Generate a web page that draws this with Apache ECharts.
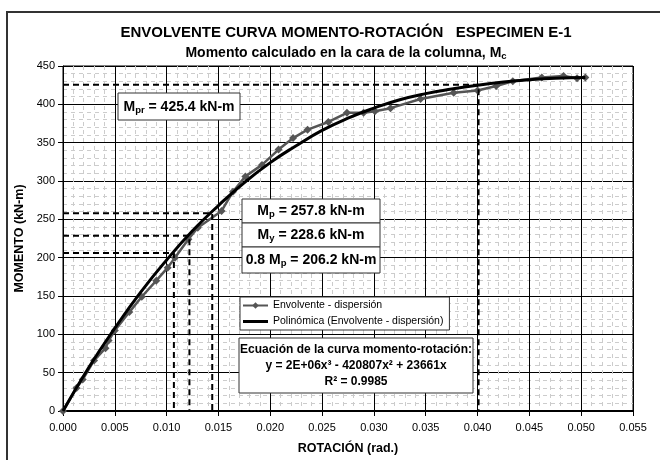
<!DOCTYPE html>
<html>
<head>
<meta charset="utf-8">
<script src="https://cdn.jsdelivr.net/npm/echarts@6/dist/echarts.min.js"></script>
<style>
  html, body { margin: 0; padding: 0; background: #fff; }
  #mainb { width: 660px; height: 460px; }
</style>
</head>
<body>
<div id="mainb"></div>
<script>
// envolvente (puntos medidos)
var rotacion = [0, 0.0013, 0.0019, 0.0030, 0.0041, 0.0044, 0.0050, 0.0064, 0.0076, 0.0090,
  0.0101, 0.0108, 0.0121, 0.0130, 0.0153, 0.0164, 0.0176, 0.0192, 0.0208, 0.0222,
  0.0236, 0.0256, 0.0274, 0.0290, 0.0301, 0.0316, 0.0345, 0.0377, 0.0400, 0.0418,
  0.0434, 0.0462, 0.0483, 0.0496, 0.0504];
var momento = [0, 30, 41, 66, 82, 92, 105, 129, 149, 170,
  187, 200, 224, 239, 261, 286, 306, 321, 341, 356,
  367, 377, 389, 389, 391, 395, 407, 415, 418, 424,
  430, 435, 437, 434, 435];

// linea de tendencia polinomica
var tendRot = [0, 0.0025, 0.005, 0.0075, 0.010, 0.0125, 0.015, 0.0175, 0.020, 0.0225, 0.025,
  0.0275, 0.030, 0.0325, 0.035, 0.0375, 0.040, 0.0425, 0.045, 0.0475, 0.0504];
var tendMom = [0, 57, 108, 155, 197, 235, 268, 298, 324, 346, 366,
  382, 395, 406, 414, 420, 425, 429, 432, 434, 435];

// momentos de referencia
var refMomento = [425.4, 257.8, 228.6, 206.2];
var refRotacion = [0.0401, 0.0144, 0.0122, 0.0107];

var xTicks = { min: 0, max: 0.055, interval: 0.005 };
var yTicks = { min: 0, max: 450, interval: 50 };

var fuente = 'Liberation Sans, Arial, sans-serif';

function pares(xs, ys) {
  var out = [];
  for (var i = 0; i < xs.length; i++) out.push([xs[i], ys[i]]);
  return out;
}

var series = [{
  name: 'Envolvente - dispersión',
  type: 'line',
  data: pares(rotacion, momento),
  symbol: 'diamond',
  symbolSize: 8,
  showSymbol: true,
  lineStyle: { color: '#555', width: 2.5 },
  itemStyle: { color: '#555' },
  z: 3
}, {
  name: 'Polinómica (Envolvente - dispersión)',
  type: 'line',
  data: pares(tendRot, tendMom),
  smooth: true,
  symbol: 'none',
  lineStyle: { color: '#000', width: 3 },
  itemStyle: { color: '#000' },
  z: 4
}];

refMomento.forEach(function (m, i) {
  series.push({
    type: 'line',
    data: [[0, m], [refRotacion[i], m], [refRotacion[i], 0]],
    symbol: 'none',
    silent: true,
    lineStyle: { color: '#000', width: 2, type: [6, 4] },
    z: 5
  });
});

var sub = { fontSize: 9.5, fontWeight: 'bold', fontFamily: fuente, verticalAlign: 'bottom', lineHeight: 11 };
var main = { fontSize: 14, fontWeight: 'bold', fontFamily: fuente, lineHeight: 17, color: '#000' };

function caja(x, y, w, h) {
  return { type: 'rect', shape: { x: x, y: y, width: w, height: h },
    style: { fill: '#fff', stroke: '#333', lineWidth: 1 }, z: 100 };
}
function texto(x, y, t, extra) {
  var st = { x: x, y: y, text: t, textAlign: 'center', textVerticalAlign: 'middle',
    rich: { m: main, s: sub }, fill: '#000', font: 'bold 14px ' + fuente };
  for (var k in extra) st[k] = extra[k];
  return { type: 'text', style: st, z: 101 };
}
var eq = { e: { fontSize: 12, fontWeight: 'bold', fontFamily: fuente } };

var echartLine = echarts.init(document.getElementById('mainb'));
echartLine.setOption({
  animation: false,
  backgroundColor: '#fff',
  textStyle: { fontFamily: fuente },
  grid: { left: 63, right: 27, top: 66, bottom: 47, show: true, borderColor: '#000', borderWidth: 1 },
  legend: {
    data: [
      { name: 'Envolvente - dispersión' },
      { name: 'Polinómica (Envolvente - dispersión)', icon: 'path://M0,0 L25,0 L25,3 L0,3 Z' }
    ],
    orient: 'vertical',
    left: 240, top: 297,
    itemWidth: 25, itemHeight: 8, itemGap: 5,
    padding: [3, 6, 3, 2],
    backgroundColor: '#fff',
    borderColor: '#333', borderWidth: 1,
    textStyle: { fontSize: 10.5, color: '#000', fontFamily: fuente },
    z: 50
  },
  xAxis: {
    type: 'value',
    min: xTicks.min, max: xTicks.max, interval: xTicks.interval,
    name: 'ROTACIÓN (rad.)',
    nameLocation: 'middle', nameGap: 31,
    nameTextStyle: { fontSize: 12.5, fontWeight: 'bold', color: '#000', fontFamily: fuente },
    axisLine: { show: true, lineStyle: { color: '#000', width: 2 } },
    axisTick: { show: true, length: 5, lineStyle: { color: '#000' } },
    axisLabel: { fontSize: 11, color: '#000', margin: 11, formatter: function (v) { return v.toFixed(3); } },
    splitLine: { show: true, lineStyle: { color: '#000', width: 1 } },
    minorTick: { show: false, splitNumber: 5 },
    minorSplitLine: { show: true, lineStyle: { color: '#cccccc', width: 1, type: [4, 4] } }
  },
  yAxis: {
    type: 'value',
    min: yTicks.min, max: yTicks.max, interval: yTicks.interval,
    name: 'MOMENTO (kN-m)',
    nameLocation: 'middle', nameGap: 36,
    nameTextStyle: { fontSize: 12.5, fontWeight: 'bold', color: '#000', fontFamily: fuente },
    axisLine: { show: true, lineStyle: { color: '#000', width: 1 } },
    axisTick: { show: true, length: 5, lineStyle: { color: '#000' } },
    axisLabel: { fontSize: 11, color: '#000', margin: 8 },
    splitLine: { show: true, lineStyle: { color: '#000', width: 1 } },
    minorTick: { show: false, splitNumber: 5 },
    minorSplitLine: { show: true, lineStyle: { color: '#cccccc', width: 1, type: [4, 4] } }
  },
  series: series,
  graphic: [
    { type: 'rect', shape: { x: 7, y: 12, width: 700, height: 500 },
      style: { fill: 'none', stroke: '#333', lineWidth: 2 }, silent: true, z: 0 },
    { type: 'text', style: { x: 346, y: 33, text: 'ENVOLVENTE CURVA MOMENTO-ROTACIÓN   ESPECIMEN E-1',
      textAlign: 'center', textVerticalAlign: 'middle', font: 'bold 15px ' + fuente, fill: '#000' }, z: 100 },
    texto(346, 53, '{t|Momento calculado en la cara de la columna, M}{u|c}', {
      rich: { t: { fontSize: 14, fontWeight: 'bold', fontFamily: fuente, lineHeight: 17 },
              u: { fontSize: 9.5, fontWeight: 'bold', fontFamily: fuente, verticalAlign: 'bottom', lineHeight: 11 } } }),

    caja(118, 93, 122, 27),
    texto(179, 107, '{m|M}{s|pr}{m| = 425.4 kN-m}'),

    caja(242, 199, 138, 24),
    texto(311, 211, '{m|M}{s|p}{m| = 257.8 kN-m}'),
    caja(242, 223, 138, 24),
    texto(311, 235, '{m|M}{s|y}{m| = 228.6 kN-m}'),
    caja(242, 247, 138, 26),
    texto(311, 260, '{m|0.8 M}{s|p}{m| = 206.2 kN-m}'),

    caja(239, 338, 234, 55),
    texto(356, 350, '{e|Ecuación de la curva momento-rotación:}', { rich: eq }),
    texto(356, 366, '{e|y = 2E+06x³ - 420807x² + 23661x}', { rich: eq }),
    texto(356, 382, '{e|R² = 0.9985}', { rich: eq })
  ]
});
</script>
</body>
</html>
